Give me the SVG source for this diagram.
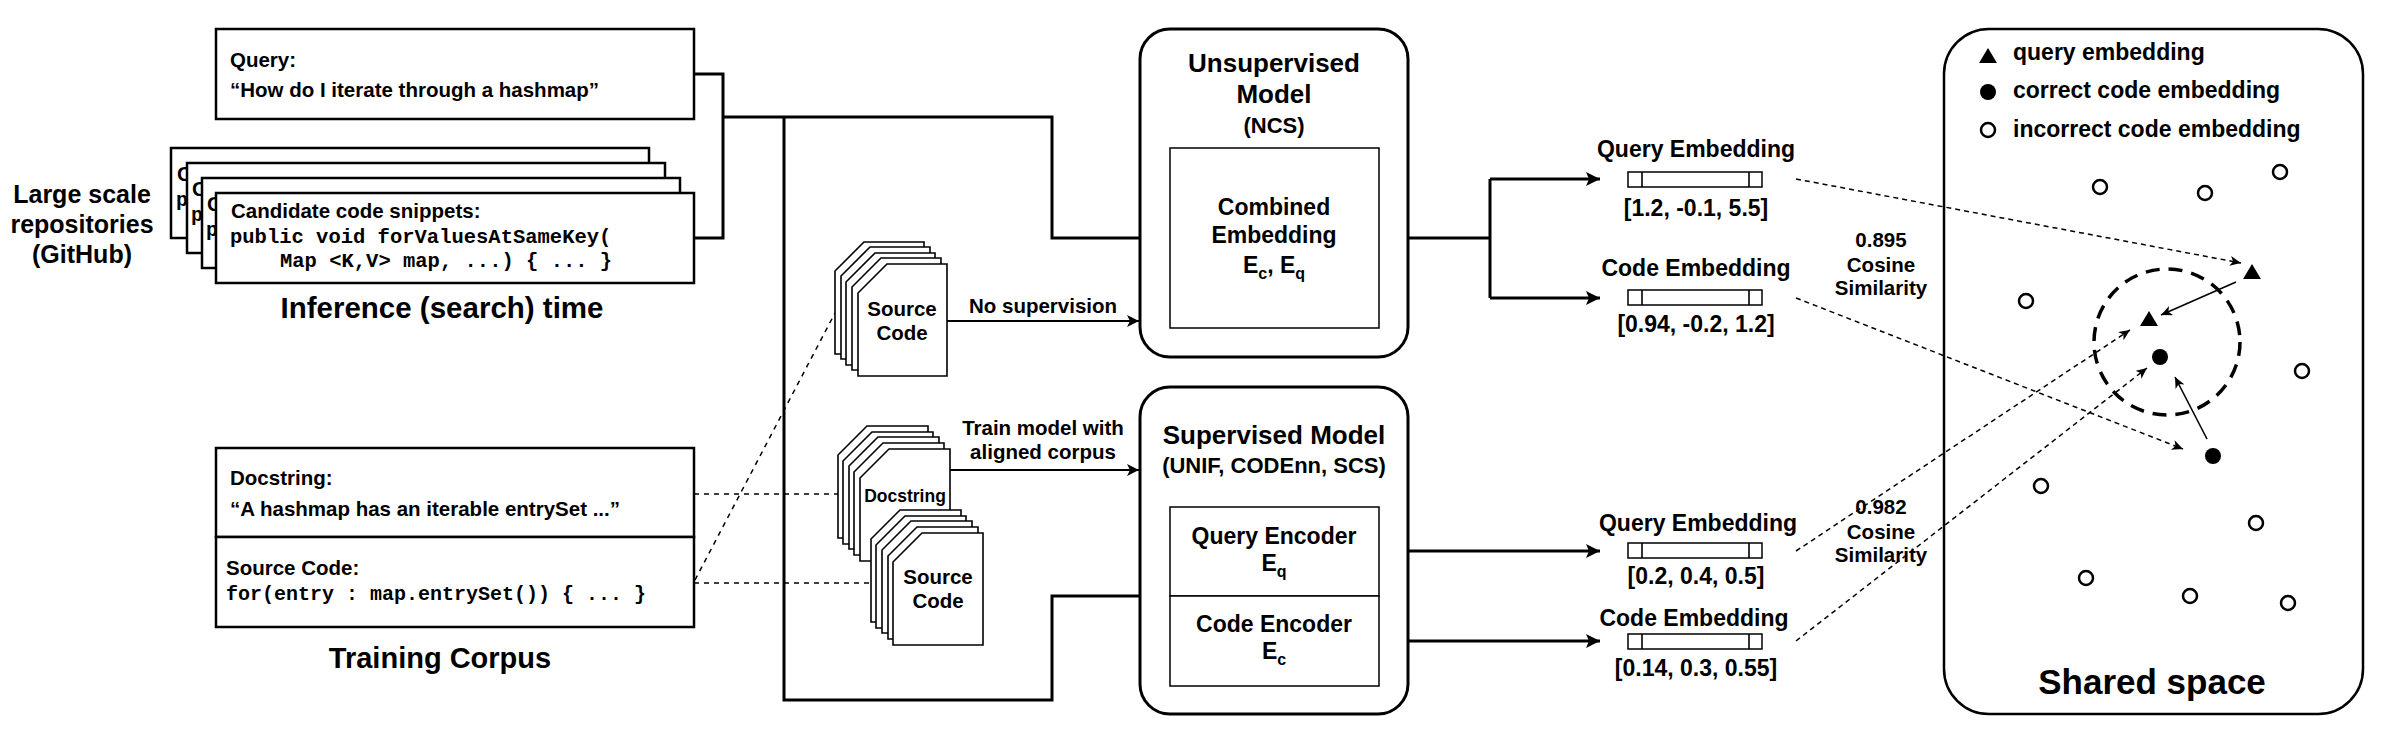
<svg xmlns="http://www.w3.org/2000/svg" width="2402" height="748" viewBox="0 0 2402 748">
<defs>
<style>
.t{font-family:"Liberation Sans",Arial,sans-serif;font-weight:bold;fill:#000}
.m{font-family:"Liberation Mono","Courier New",monospace;font-weight:bold;fill:#000}
.c{text-anchor:middle}
.box{fill:#fff;stroke:#000;stroke-width:2.5}
.thin{fill:#fff;stroke:#000;stroke-width:1.5}
.card{fill:#fff;stroke:#000;stroke-width:1.6}
.con{fill:none;stroke:#000;stroke-width:3}
.con2{fill:none;stroke:#000;stroke-width:2}
.dash{fill:none;stroke:#000;stroke-width:1.5;stroke-dasharray:5 5}
.dash2{fill:none;stroke:#000;stroke-width:1.5;stroke-dasharray:5 4}
.ln{fill:none;stroke:#000;stroke-width:1.6}
.oc{fill:#fff;stroke:#000;stroke-width:2.5}
</style>
<marker id="aB" markerUnits="userSpaceOnUse" markerWidth="16" markerHeight="16" refX="14" refY="7" orient="auto"><path d="M0,0 L14,7 L0,14 L3,7 Z" fill="#000"/></marker>
<marker id="aM" markerUnits="userSpaceOnUse" markerWidth="14" markerHeight="14" refX="12" refY="6" orient="auto"><path d="M0,0 L12,6 L0,12 L3,6 Z" fill="#000"/></marker>
<marker id="aS" markerUnits="userSpaceOnUse" markerWidth="12" markerHeight="12" refX="11" refY="5" orient="auto"><path d="M0,0 L11,5 L0,10 L3,5 Z" fill="#000"/></marker>
</defs>
<rect width="2402" height="748" fill="#fff"/>

<g id="connectors">
<path class="con" d="M694,74 H723 V238 H694"/>
<path class="con" d="M723,117 H1052 V238 H1168" marker-end="url(#aB)"/>
<path class="con" d="M784,117 V700 H1052 V596 H1168" marker-end="url(#aB)"/>
<path class="con2" d="M947,321 H1139" marker-end="url(#aM)"/>
<path class="con2" d="M950,470 H1139" marker-end="url(#aM)"/>
<path class="con" d="M1379,238 H1490 M1490,179 V298"/>
<path class="con" d="M1490,179 H1600" marker-end="url(#aB)"/>
<path class="con" d="M1490,298 H1600" marker-end="url(#aB)"/>
<path class="con" d="M1379,551 H1600" marker-end="url(#aB)"/>
<path class="con" d="M1379,641 H1600" marker-end="url(#aB)"/>
<path class="dash" d="M694,494 H838"/>
<path class="dash" d="M694,583 H871"/>
<path class="dash" d="M695,580 L835,313"/>
<path class="dash2" d="M1796,179 L2241,263" marker-end="url(#aS)"/>
<path class="dash2" d="M1796,298 L2183,449" marker-end="url(#aS)"/>
<path class="dash2" d="M1796,551 L2130,330" marker-end="url(#aS)"/>
<path class="dash2" d="M1796,641 L2147,368" marker-end="url(#aS)"/>
<path class="ln" d="M2236,282 L2161,315" marker-end="url(#aS)"/>
<path class="ln" d="M2207,439 L2175,377" marker-end="url(#aS)"/>
</g>

<g id="repositories-label">
<text class="t c" x="82" y="203" font-size="25">Large scale</text>
<text class="t c" x="82" y="233" font-size="25">repositories</text>
<text class="t c" x="82" y="263" font-size="25">(GitHub)</text>
</g>

<g id="query">
<rect class="box" x="216" y="29" width="478" height="90"/>
<text class="t" x="230" y="67" font-size="20.5">Query:</text>
<text class="t" x="230" y="97" font-size="20.5">“How do I iterate through a hashmap”</text>
</g>

<g id="candidates">
<rect class="box" x="171" y="148" width="478" height="90"/>
<text class="t" x="177" y="181" font-size="20.5">C</text>
<text class="m" x="176" y="206" font-size="20">p</text>
<rect class="box" x="187" y="163" width="478" height="90"/>
<text class="t" x="192" y="196" font-size="20.5">C</text>
<text class="m" x="191" y="221" font-size="20">p</text>
<rect class="box" x="202" y="178" width="478" height="90"/>
<text class="t" x="207" y="211" font-size="20.5">C</text>
<text class="m" x="206" y="236" font-size="20">p</text>
<rect class="box" x="216" y="193" width="478" height="90"/>
<text class="t" x="231" y="218" font-size="20.5">Candidate code snippets:</text>
<text class="m" x="230" y="243" font-size="20.5">public void forValuesAtSameKey(</text>
<text class="m" x="280" y="267" font-size="20.5">Map &lt;K,V&gt; map, ...) { ... }</text>
<text class="t c" x="442" y="318" font-size="29.5">Inference (search) time</text>
</g>

<g id="training-corpus">
<rect class="box" x="216" y="448" width="478" height="89"/>
<rect class="box" x="216" y="537" width="478" height="90"/>
<text class="t" x="230" y="485" font-size="20.5">Docstring:</text>
<text class="t" x="230" y="516" font-size="20.5">“A hashmap has an iterable entrySet ...”</text>
<text class="t" x="226" y="575" font-size="20.5">Source Code:</text>
<text class="m" x="226" y="600" font-size="20">for(entry : map.entrySet()) { ... }</text>
<text class="t c" x="440" y="668" font-size="29">Training Corpus</text>
</g>

<g id="source-code-stack-1">
<path class="card" d="M864,242 H924 V354 H835 V271 Z"/>
<path class="card" d="M870,247 H930 V359 H841 V276 Z"/>
<path class="card" d="M875,253 H935 V365 H846 V282 Z"/>
<path class="card" d="M881,258 H941 V370 H852 V287 Z"/>
<path class="card" d="M887,264 H947 V376 H858 V293 Z"/>
<text class="t c" x="902" y="316" font-size="20.5">Source</text>
<text class="t c" x="902" y="340" font-size="20.5">Code</text>
</g>

<g id="docstring-stack">
<path class="card" d="M867,426 H928 V538 H838 V455 Z"/>
<path class="card" d="M872,432 H933 V544 H843 V461 Z"/>
<path class="card" d="M878,437 H939 V549 H849 V466 Z"/>
<path class="card" d="M883,443 H944 V555 H854 V472 Z"/>
<path class="card" d="M889,449 H950 V561 H860 V478 Z"/>
<text class="t c" x="905" y="502" font-size="17.5">Docstring</text>
</g>

<g id="source-code-stack-2">
<path class="card" d="M900,510 H961 V622 H871 V539 Z"/>
<path class="card" d="M905,516 H966 V628 H876 V545 Z"/>
<path class="card" d="M911,521 H972 V633 H882 V550 Z"/>
<path class="card" d="M917,527 H978 V639 H888 V556 Z"/>
<path class="card" d="M922,533 H983 V645 H893 V562 Z"/>
<text class="t c" x="938" y="584" font-size="20.5">Source</text>
<text class="t c" x="938" y="608" font-size="20.5">Code</text>
</g>

<g id="labels">
<text class="t c" x="1043" y="313" font-size="20.5">No supervision</text>
<text class="t c" x="1043" y="435" font-size="20.5">Train model with</text>
<text class="t c" x="1043" y="459" font-size="20.5">aligned corpus</text>
</g>

<g id="unsupervised-model">
<rect class="box" x="1140" y="29" width="268" height="328" rx="30" ry="30" style="stroke-width:3"/>
<text class="t c" x="1274" y="72" font-size="26">Unsupervised</text>
<text class="t c" x="1274" y="103" font-size="26">Model</text>
<text class="t c" x="1274" y="133" font-size="22">(NCS)</text>
<rect class="thin" x="1170" y="148" width="209" height="180"/>
<text class="t c" x="1274" y="215" font-size="23">Combined</text>
<text class="t c" x="1274" y="243" font-size="23">Embedding</text>
<text class="t c" x="1274" y="273" font-size="23">E<tspan font-size="16" dy="6">c</tspan><tspan dy="-6">, E</tspan><tspan font-size="16" dy="6">q</tspan></text>
</g>

<g id="supervised-model">
<rect class="box" x="1140" y="387" width="268" height="327" rx="30" ry="30" style="stroke-width:3"/>
<text class="t c" x="1274" y="444" font-size="26">Supervised Model</text>
<text class="t c" x="1274" y="473" font-size="22">(UNIF, CODEnn, SCS)</text>
<rect class="thin" x="1170" y="507" width="209" height="89"/>
<rect class="thin" x="1170" y="596" width="209" height="90"/>
<text class="t c" x="1274" y="544" font-size="23">Query Encoder</text>
<text class="t c" x="1274" y="571" font-size="23">E<tspan font-size="16" dy="6">q</tspan></text>
<text class="t c" x="1274" y="632" font-size="23">Code Encoder</text>
<text class="t c" x="1274" y="659" font-size="23">E<tspan font-size="16" dy="6">c</tspan></text>
</g>

<g id="unsup-query-embedding">
<text class="t c" x="1696" y="157" font-size="23">Query Embedding</text>
<rect class="thin" x="1628" y="172" width="134" height="15"/>
<path class="ln" d="M1642,172 V187 M1749,172 V187"/>
<text class="t c" x="1696" y="216" font-size="23">[1.2, -0.1, 5.5]</text>
</g>
<g id="unsup-code-embedding">
<text class="t c" x="1696" y="276" font-size="23">Code Embedding</text>
<rect class="thin" x="1628" y="290" width="134" height="15"/>
<path class="ln" d="M1642,290 V305 M1749,290 V305"/>
<text class="t c" x="1696" y="332" font-size="23">[0.94, -0.2, 1.2]</text>
</g>
<g id="sup-query-embedding">
<text class="t c" x="1698" y="531" font-size="23">Query Embedding</text>
<rect class="thin" x="1628" y="543" width="134" height="15"/>
<path class="ln" d="M1642,543 V558 M1749,543 V558"/>
<text class="t c" x="1696" y="584" font-size="23">[0.2, 0.4, 0.5]</text>
</g>
<g id="sup-code-embedding">
<text class="t c" x="1694" y="626" font-size="23">Code Embedding</text>
<rect class="thin" x="1628" y="634" width="134" height="15"/>
<path class="ln" d="M1642,634 V649 M1749,634 V649"/>
<text class="t c" x="1696" y="676" font-size="23">[0.14, 0.3, 0.55]</text>
</g>

<g id="similarity-labels">
<text class="t c" x="1881" y="247" font-size="20.5">0.895</text>
<text class="t c" x="1881" y="272" font-size="20.5">Cosine</text>
<text class="t c" x="1881" y="295" font-size="20.5">Similarity</text>
<text class="t c" x="1881" y="514" font-size="20.5">0.982</text>
<text class="t c" x="1881" y="539" font-size="20.5">Cosine</text>
<text class="t c" x="1881" y="562" font-size="20.5">Similarity</text>
</g>

<g id="shared-space">
<rect x="1944" y="29" width="419" height="685" rx="45" ry="45" fill="none" stroke="#000" stroke-width="2.5"/>
<polygon points="1979,63 1997,63 1988,48" fill="#000"/>
<text class="t" x="2013" y="60" font-size="23">query embedding</text>
<circle cx="1988" cy="92" r="8" fill="#000"/>
<text class="t" x="2013" y="98" font-size="23">correct code embedding</text>
<circle class="oc" cx="1988" cy="130" r="7"/>
<text class="t" x="2013" y="137" font-size="23">incorrect code embedding</text>
<circle cx="2167" cy="342" r="73" fill="none" stroke="#000" stroke-width="3.5" stroke-dasharray="14 9"/>
<circle class="oc" cx="2100" cy="187" r="7"/>
<circle class="oc" cx="2205" cy="193" r="7"/>
<circle class="oc" cx="2280" cy="172" r="7"/>
<circle class="oc" cx="2026" cy="301" r="7"/>
<circle class="oc" cx="2302" cy="371" r="7"/>
<circle class="oc" cx="2041" cy="486" r="7"/>
<circle class="oc" cx="2256" cy="523" r="7"/>
<circle class="oc" cx="2086" cy="578" r="7"/>
<circle class="oc" cx="2190" cy="596" r="7"/>
<circle class="oc" cx="2288" cy="603" r="7"/>
<polygon points="2243,279 2261,279 2252,264" fill="#000"/>
<polygon points="2140,326 2158,326 2149,311" fill="#000"/>
<circle cx="2160" cy="357" r="8" fill="#000"/>
<circle cx="2213" cy="456" r="8" fill="#000"/>
<text class="t c" x="2152" y="694" font-size="35">Shared space</text>
</g>
</svg>
